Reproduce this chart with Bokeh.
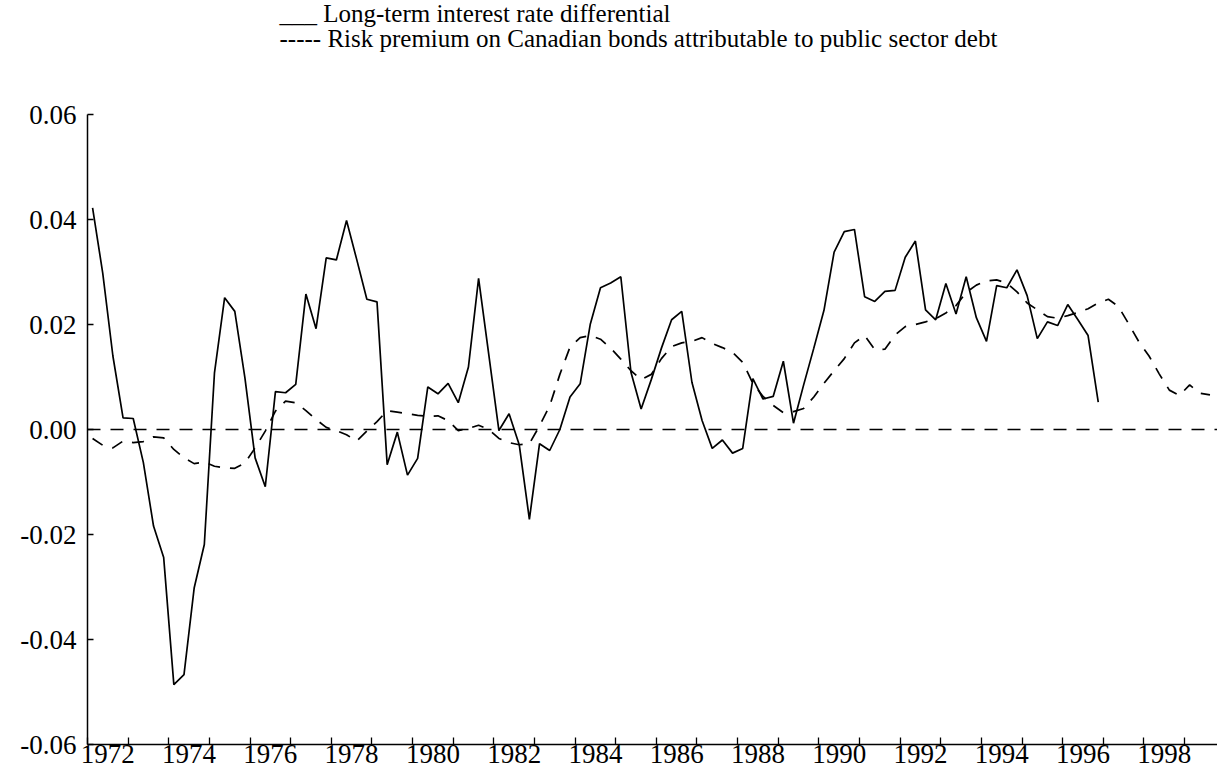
from bokeh.plotting import figure
from bokeh.layouts import column
from bokeh.models import (Range1d, FixedTicker, Span, LinearAxis,
                          PrintfTickFormatter, CustomJSTickFormatter)
from bokeh.core.properties import value
from bokeh.embed import file_html
from bokeh.resources import INLINE

# ---------------- data (quarterly, starting 1972Q1) ----------------
START_YEAR = 1972

rate_differential = [
    0.0422, 0.0298, 0.0140, 0.0022, 0.0021, -0.0063, -0.0184, -0.0244,
    -0.0486, -0.0467, -0.0302, -0.0219, 0.0108, 0.0251, 0.0225, 0.0098,
    -0.0054, -0.0109, 0.0072, 0.0070, 0.0086, 0.0258, 0.0192, 0.0327,
    0.0323, 0.0398, 0.0324, 0.0248, 0.0243, -0.0067, -0.0005, -0.0087,
    -0.0055, 0.0081, 0.0068, 0.0088, 0.0051, 0.0119, 0.0288, 0.0143,
    -0.0002, 0.0030, -0.0029, -0.0171, -0.0027, -0.0040, 0.0000, 0.0062,
    0.0087, 0.0201, 0.0270, 0.0279, 0.0291, 0.0109, 0.0039, 0.0095,
    0.0155, 0.0209, 0.0225, 0.0090, 0.0017, -0.0036, -0.0020, -0.0045,
    -0.0036, 0.0097, 0.0058, 0.0063, 0.0130, 0.0012, 0.0085, 0.0155,
    0.0227, 0.0338, 0.0377, 0.0381, 0.0253, 0.0244, 0.0263, 0.0265,
    0.0328, 0.0359, 0.0228, 0.0209, 0.0278, 0.0220, 0.0291, 0.0213,
    0.0168, 0.0274, 0.0270, 0.0304, 0.0255, 0.0173, 0.0205, 0.0198,
    0.0238, 0.0209, 0.0179, 0.0052,
]

risk_premium = [
    -0.0017, -0.0030, -0.0035, -0.0022, -0.0025, -0.0023, -0.0014, -0.0016,
    -0.0038, -0.0054, -0.0065, -0.0062, -0.0070, -0.0073, -0.0074, -0.0064,
    -0.0035, -0.0003, 0.0035, 0.0054, 0.0051, 0.0036, 0.0019, 0.0004,
    -0.0002, -0.0010, -0.0022, -0.0003, 0.0015, 0.0036, 0.0033, 0.0030,
    0.0027, 0.0025, 0.0026, 0.0017, -0.0002, 0.0002, 0.0008, 0.0000,
    -0.0017, -0.0025, -0.0029, -0.0027, 0.0007, 0.0045, 0.0105, 0.0157,
    0.0175, 0.0179, 0.0172, 0.0155, 0.0134, 0.0112, 0.0095, 0.0105,
    0.0135, 0.0158, 0.0165, 0.0168, 0.0175, 0.0164, 0.0156, 0.0147,
    0.0128, 0.0088, 0.0063, 0.0046, 0.0032, 0.0034, 0.0040, 0.0062,
    0.0088, 0.0112, 0.0135, 0.0165, 0.0179, 0.0152, 0.0153, 0.0180,
    0.0196, 0.0200, 0.0205, 0.0211, 0.0222, 0.0236, 0.0261, 0.0275,
    0.0283, 0.0285, 0.0279, 0.0262, 0.0241, 0.0228, 0.0215, 0.0212,
    0.0217, 0.0223, 0.0230, 0.0241, 0.0248, 0.0234, 0.0201, 0.0167,
    0.0140, 0.0106, 0.0075, 0.0065, 0.0085, 0.0069, 0.0066,
]

y_ticks = [-0.06, -0.04, -0.02, 0.00, 0.02, 0.04, 0.06]
x_label_years = [1972, 1974, 1976, 1978, 1980, 1982, 1984, 1986,
                 1988, 1990, 1992, 1994, 1996, 1998]
year_ticks = list(range(1972, 2000))

legend_texts = [
    "___ Long-term interest rate differential",
    "----- Risk premium on Canadian bonds attributable to public sector debt",
]


def quarter_positions(n):
    # mid-quarter positions on a decimal-year axis
    return [START_YEAR + (i + 0.5) / 4.0 for i in range(n)]


FONT = "Liberation Serif"
W = 1217
LEG_H = 70
FRAME_LEFT = 87

# ---------------- legend strip (text lines above the plot) ----------------
# (the column aligns this strip's frame with the chart frame below)
leg = figure(width=W, height=LEG_H, output_backend="svg", toolbar_location=None,
             x_range=Range1d(FRAME_LEFT, W), y_range=Range1d(LEG_H, 0),
             x_axis_type=None, y_axis_type=None, min_border=0)
leg.outline_line_color = None
leg.grid.visible = False
leg.text(x=[279, 279], y=[13, 38], text=legend_texts,
         text_font=value(FONT), text_font_size=value("25px"),
         text_color="black", text_baseline="middle", text_align="left")

# ---------------- main chart ----------------
p = figure(width=W, height=772 - LEG_H, output_backend="svg", toolbar_location=None,
           x_range=Range1d(1972.0, 1999.81), y_range=Range1d(-0.06, 0.06),
           x_axis_type=None, y_axis_type=None,
           min_border_left=FRAME_LEFT, min_border_right=0, min_border_top=114 - LEG_H,
           min_border_bottom=28)
p.outline_line_color = None
p.background_fill_color = "white"
p.border_fill_color = "white"

# x axis: labels centred inside each labelled year, tick marks at year starts
xaxis = LinearAxis(
    ticker=FixedTicker(ticks=[y + 0.5 for y in x_label_years], minor_ticks=year_ticks),
    formatter=CustomJSTickFormatter(code="return Math.floor(tick).toString();"),
)
xaxis.axis_line_color = "black"
xaxis.axis_line_width = 1.5
xaxis.major_tick_line_color = None
xaxis.major_tick_in = 0
xaxis.major_tick_out = 0
xaxis.minor_tick_line_color = "black"
xaxis.minor_tick_line_width = 1.3
xaxis.minor_tick_in = 7
xaxis.minor_tick_out = 0
xaxis.major_label_standoff = 0
xaxis.major_label_text_font = FONT
xaxis.major_label_text_font_size = "27px"
xaxis.major_label_text_color = "black"
p.add_layout(xaxis, "below")

yaxis = LinearAxis(ticker=FixedTicker(ticks=y_ticks, minor_ticks=[]),
                   formatter=PrintfTickFormatter(format="%.2f"))
yaxis.axis_line_color = "black"
yaxis.axis_line_width = 1.5
yaxis.major_tick_line_color = "black"
yaxis.major_tick_line_width = 1.3
yaxis.major_tick_in = 6
yaxis.major_tick_out = 0
yaxis.minor_tick_line_color = None
yaxis.major_label_standoff = 11
yaxis.major_label_text_font = FONT
yaxis.major_label_text_font_size = "27px"
yaxis.major_label_text_color = "black"
p.add_layout(yaxis, "left")

# zero reference line
p.add_layout(Span(location=0, dimension="width", line_color="black",
                  line_width=1.5, line_dash="13 10"))

p.line(quarter_positions(len(rate_differential)), rate_differential,
       line_color="black", line_width=1.7)
p.line(quarter_positions(len(risk_premium)), risk_premium,
       line_color="black", line_width=1.7, line_dash="12 10")

layout = column(leg, p, spacing=0)
open("out.html", "w").write(file_html(layout, INLINE))
